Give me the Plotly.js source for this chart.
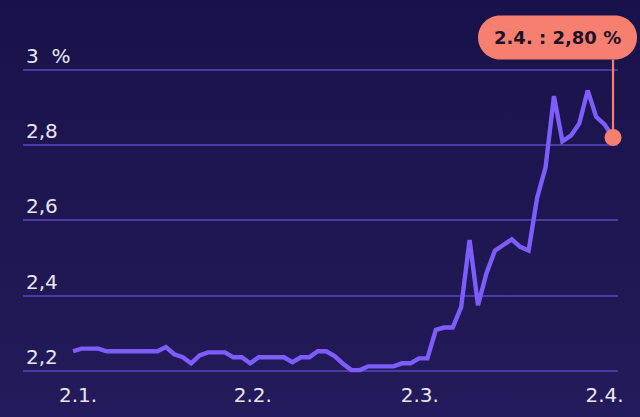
<!DOCTYPE html>
<html>
<head>
<meta charset="utf-8">
<script src="https://cdn.plot.ly/plotly-3.0.1.min.js"></script>
<style>
  html, body { margin: 0; padding: 0; }
  body { width: 640px; height: 417px; background: linear-gradient(180deg, #19124a 0%, #1e1752 55%, #231b5b 100%); overflow: hidden; }
  #chart { width: 640px; height: 417px; }
</style>
</head>
<body>
<div id="chart"></div>
<script>
// Business days 2.1.–2.4.
const dates = [
  "2025-01-02","2025-01-03","2025-01-06","2025-01-07","2025-01-08","2025-01-09","2025-01-10",
  "2025-01-13","2025-01-14","2025-01-15","2025-01-16","2025-01-17","2025-01-20","2025-01-21",
  "2025-01-22","2025-01-23","2025-01-24","2025-01-27","2025-01-28","2025-01-29","2025-01-30",
  "2025-01-31","2025-02-03","2025-02-04","2025-02-05","2025-02-06","2025-02-07","2025-02-10",
  "2025-02-11","2025-02-12","2025-02-13","2025-02-14","2025-02-17","2025-02-18","2025-02-19",
  "2025-02-20","2025-02-21","2025-02-24","2025-02-25","2025-02-26","2025-02-27","2025-02-28",
  "2025-03-03","2025-03-04","2025-03-05","2025-03-06","2025-03-07","2025-03-10","2025-03-11",
  "2025-03-12","2025-03-13","2025-03-14","2025-03-17","2025-03-18","2025-03-19","2025-03-20",
  "2025-03-21","2025-03-24","2025-03-25","2025-03-26","2025-03-27","2025-03-28","2025-03-31",
  "2025-04-01","2025-04-02"
];
const rates = [
  2.253, 2.26, 2.26, 2.26, 2.253, 2.253, 2.253, 2.253, 2.253, 2.253, 2.253,
  2.264, 2.245, 2.237, 2.221, 2.242, 2.25, 2.25, 2.25, 2.237, 2.237,
  2.221, 2.237, 2.237, 2.237, 2.237, 2.224, 2.237, 2.237, 2.253, 2.253,
  2.24, 2.22, 2.203, 2.203, 2.213, 2.213, 2.213, 2.213, 2.221, 2.221,
  2.234, 2.234, 2.31, 2.316, 2.316, 2.37, 2.548, 2.375, 2.46, 2.52,
  2.535, 2.55, 2.53, 2.52, 2.66, 2.74, 2.93, 2.81, 2.825, 2.857,
  2.945, 2.875, 2.855, 2.82
];
const yTickVals = [2.2, 2.4, 2.6, 2.8, 3.0];
const yTickText = ["2,2", "2,4", "2,6", "2,8", "3\u00a0\u00a0%"];
const xTickText = ["2.1.", "2.2.", "2.3.", "2.4."];
const calloutText = "2.4. : 2,80 %";

const idx = dates.map((d, i) => i);
const xTickPos = [0.6, 21.3, 41.1, 63.0];
const xRange = [-5.93, 64.59];
const yRange = [2.19, 3.1];

const last = idx.length - 1;
const lastX = idx[last], lastY = rates[last];
const px = (lastX - xRange[0]) / (xRange[1] - xRange[0]);
const py = (lastY - yRange[0]) / (yRange[1] - yRange[0]);

// pill path in pixels relative to the last point (y up)
const L = -135, R = 24, B = 78, T = 122, r = 22, k = 0.5523 * r;
const pill = `M${L + r},${B} L${R - r},${B} C${R - r + k},${B} ${R},${B + r - k} ${R},${B + r} ` +
  `C${R},${B + r + k} ${R - r + k},${T} ${R - r},${T} L${L + r},${T} ` +
  `C${L + r - k},${T} ${L},${T - r + k} ${L},${T - r} C${L},${T - r - k} ${L + r - k},${B} ${L + r},${B} Z`;

const salmon = "#f77f70";

const traces = [
  {
    x: idx, y: rates, type: "scatter", mode: "lines",
    line: { color: "#7d5dfb", width: 4.4, shape: "linear" },
    cliponaxis: false, hoverinfo: "skip"
  },
  {
    x: [lastX], y: [lastY], type: "scatter", mode: "markers",
    marker: { color: salmon, size: 17 },
    cliponaxis: false, hoverinfo: "skip"
  }
];

const layout = {
  width: 640, height: 417,
  margin: { l: 23, r: 22, t: 32, b: 42 },
  paper_bgcolor: "rgba(0,0,0,0)",
  plot_bgcolor: "rgba(0,0,0,0)",
  showlegend: false,
  font: { family: "DejaVu Sans", color: "#e9e6f3", size: 20 },
  xaxis: {
    range: xRange, showgrid: false, zeroline: false, showline: false,
    tickmode: "array", tickvals: xTickPos, ticktext: xTickText,
    ticks: "", tickfont: { size: 20, color: "#e9e6f3" }, ticklabelstandoff: 6
  },
  yaxis: {
    range: yRange, showgrid: true, gridcolor: "#4a3aa6", gridwidth: 2,
    zeroline: false, showline: false,
    tickmode: "array", tickvals: yTickVals, ticktext: yTickText,
    ticks: "", ticklabelposition: "inside top",
    tickfont: { size: 20, color: "#e9e6f3" }
  },
  shapes: [
    {
      type: "path", xref: "paper", yref: "paper",
      xsizemode: "pixel", ysizemode: "pixel", xanchor: px, yanchor: py,
      path: `M0,8 L0,${B}`, line: { color: salmon, width: 2.2 }
    },
    {
      type: "path", xref: "paper", yref: "paper",
      xsizemode: "pixel", ysizemode: "pixel", xanchor: px, yanchor: py,
      path: pill, fillcolor: salmon, line: { width: 0 }
    }
  ],
  annotations: [
    {
      x: lastX, y: lastY, xref: "x", yref: "y", showarrow: false,
      text: "<b>" + calloutText + "</b>",
      xshift: (L + R) / 2, yshift: (B + T) / 2,
      font: { family: "DejaVu Sans", size: 18, color: "#1d1228" }
    }
  ]
};

Plotly.newPlot("chart", traces, layout, { staticPlot: true, displayModeBar: false });
</script>
</body>
</html>
